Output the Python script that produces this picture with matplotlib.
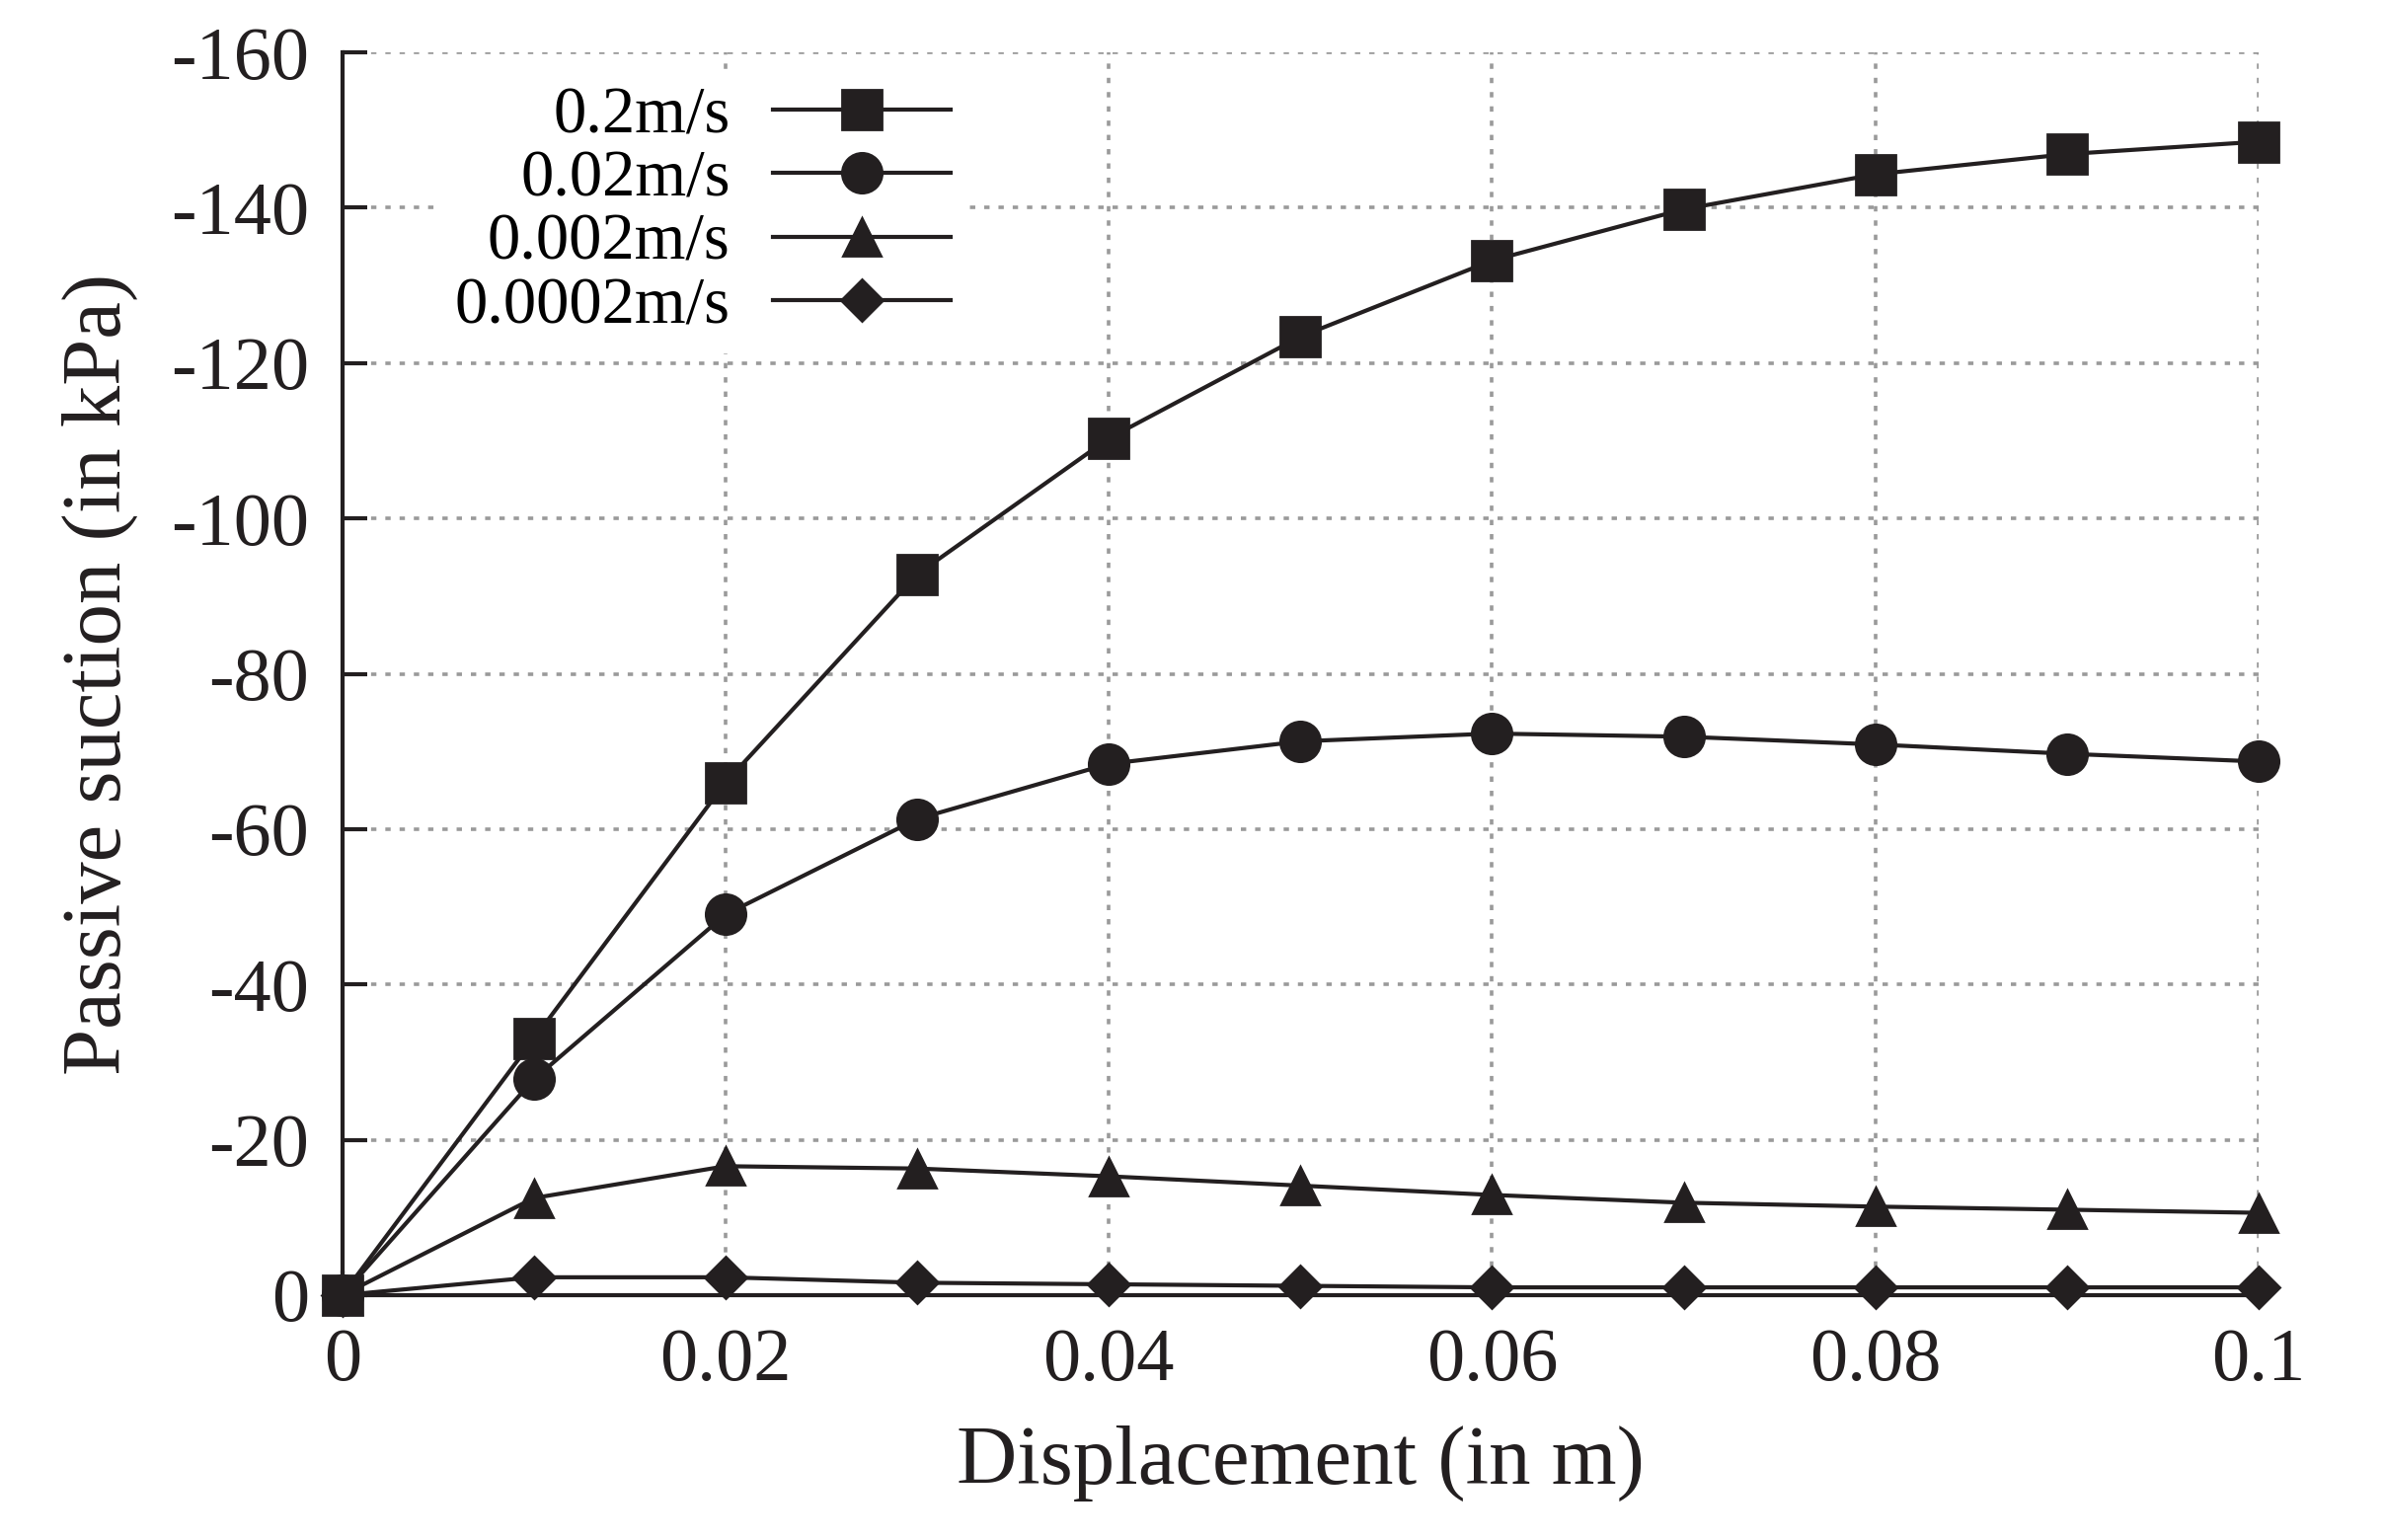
#!/usr/bin/env python
import numpy as np
import matplotlib
matplotlib.use("Agg")
import matplotlib.pyplot as plt

plt.rcParams['font.family'] = ['Liberation Serif', 'DejaVu Serif']
plt.rcParams['axes.unicode_minus'] = False

# displacement (m)
disp = [0, 0.01, 0.02, 0.03, 0.04, 0.05, 0.06, 0.07, 0.08, 0.09, 0.1]

# passive suction (kPa)
v_02 = [0, -33.0, -66.0, -92.8, -110.3, -123.4, -133.2, -139.8, -144.3, -146.9, -148.5]
v_002 = [0, -27.8, -49.0, -61.3, -68.4, -71.3, -72.3, -71.9, -70.9, -69.7, -68.7]
v_0002 = [0, -12.5, -16.6, -16.3, -15.3, -14.1, -12.9, -11.9, -11.4, -11.0, -10.6]
v_00002 = [0, -2.3, -2.3, -1.6, -1.4, -1.2, -1.0, -1.0, -1.0, -1.0, -1.0]

labels = ['0.2m/s', '0.02m/s', '0.002m/s', '0.0002m/s']
xticks = [0, 0.02, 0.04, 0.06, 0.08, 0.1]
xticklabels = ['0', '0.02', '0.04', '0.06', '0.08', '0.1']
yticks = [0, -20, -40, -60, -80, -100, -120, -140, -160]

fig = plt.figure(figsize=(12.08, 7.8), dpi=200)
ax = fig.add_axes([0.1435, 0.159, 0.8035, 0.807])

col = '#231f20'
lw = 1.5
ax.plot(disp, v_02, marker='s', ms=14.5, color=col, lw=lw, label=labels[0], zorder=6, clip_on=False)
ax.plot(disp, v_002, marker='o', ms=14.5, color=col, lw=lw, label=labels[1], zorder=5, clip_on=False)
ax.plot(disp, v_0002, marker='^', ms=13.5, color=col, lw=lw, label=labels[2], zorder=4, clip_on=False)
ax.plot(disp, v_00002, marker='D', ms=10.5, color=col, lw=lw, label=labels[3], zorder=3, clip_on=False)

ax.set_xlim(0, 0.1)
ax.set_ylim(0, -160)
ax.set_xticks(xticks)
ax.set_xticklabels(xticklabels)
ax.set_yticks(yticks)
ax.set_yticklabels([str(t) for t in yticks])

ax.grid(True, color='#9a9a9a', linestyle=(0, (1.5, 2.5)), linewidth=1.3)
for s in ['top', 'right']:
    ax.spines[s].set_visible(False)
for s in ['left', 'bottom']:
    ax.spines[s].set_linewidth(1.5)
    ax.spines[s].set_color(col)

ax.tick_params(direction='in', length=9, width=1.5, labelsize=27.5, pad=12, colors=col)
ax.set_xlabel('Displacement (in m)', fontsize=30.5, color=col, labelpad=10.5)
ax.set_ylabel('Passive suction (in kPa)', fontsize=30.5, color=col, labelpad=12)

leg = ax.legend(loc='upper right', bbox_to_anchor=(0.326, 0.986), markerfirst=False,
                frameon=True, fontsize=24, handlelength=2.7, labelspacing=0.05,
                borderpad=0.25, handletextpad=0.65, borderaxespad=0.0)
leg.get_frame().set_edgecolor('none')
leg.get_frame().set_facecolor('white')
leg.get_frame().set_alpha(1.0)
leg.set_zorder(10)

fig.savefig('out.png', dpi=200)
